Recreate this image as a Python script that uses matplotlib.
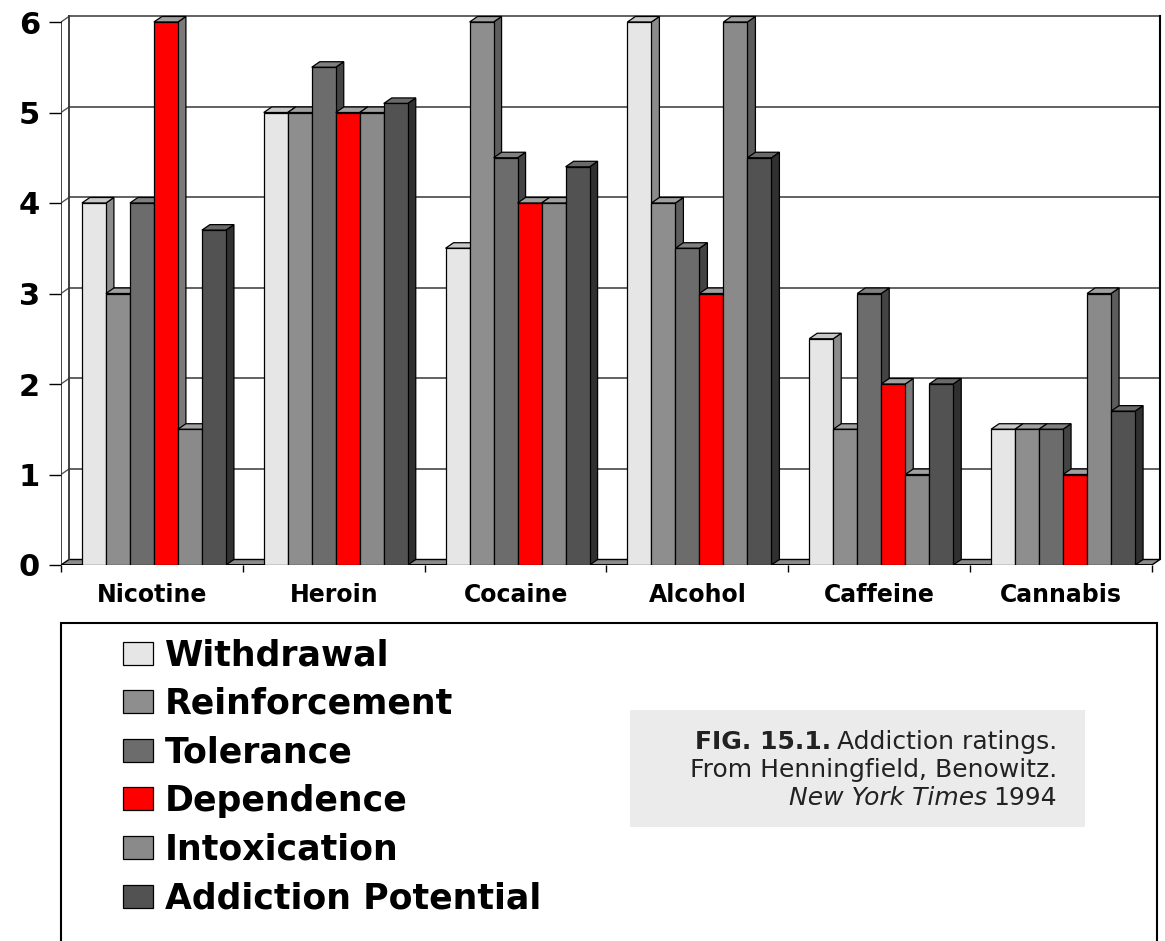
import matplotlib.pyplot as plt
from matplotlib.patches import Polygon, Rectangle
import numpy as np

drugs = ['Nicotine', 'Heroin', 'Cocaine', 'Alcohol', 'Caffeine', 'Cannabis']
series = ['Withdrawal', 'Reinforcement', 'Tolerance', 'Dependence',
          'Intoxication', 'Addiction Potential']

withdrawal = [4, 5, 3.5, 6, 2.5, 1.5]
reinforcement = [3, 5, 6, 4, 1.5, 1.5]
tolerance = [4, 5.5, 4.5, 3.5, 3, 1.5]
dependence = [6, 5, 4, 3, 2, 1]
intoxication = [1.5, 5, 4, 6, 1, 3]
addiction = [3.7, 5.1, 4.4, 4.5, 2, 1.7]
values = [withdrawal, reinforcement, tolerance, dependence, intoxication, addiction]

front = ['#e6e6e6', '#8e8e8e', '#6c6c6c', '#ff0000', '#8a8a8a', '#525252']
side = ['#8c8c8c', '#5e5e5e', '#444444', '#7a7a7a', '#5c5c5c', '#303030']
top = ['#c8c8c8', '#a0a0a0', '#808080', '#a0a0a0', '#a0a0a0', '#6a6a6a']

W, H = 1165, 941
fig = plt.figure(figsize=(W / 100, H / 100), dpi=100)
ax = fig.add_axes([61 / W, (H - 565) / H, (W - 61) / W, 565 / H])
ax.set_xlim(0, (W - 61) / 181.83)
ax.set_ylim(0, 565 / 90.5)
for s in ax.spines.values():
    s.set_visible(False)

dx, dy = 0.044, 0.061
n = len(drugs)
offset, bw = 0.115, 0.132

# floor and walls
ax.add_patch(Polygon([(0, 0), (n, 0), (n + dx, dy), (dx, dy)], closed=True,
                     facecolor='#8a8a8a', edgecolor='black', lw=1, zorder=1))
for k in range(1, 7):
    ax.plot([dx, n + dx], [k + dy, k + dy], color='#555555', lw=1.3, zorder=1)
    ax.plot([0, dx], [k, k + dy], color='#555555', lw=1.0, zorder=1)
ax.plot([0, 0], [0, 6], color='#333333', lw=1.3, zorder=1)
ax.plot([dx, dx], [dy, 6 + dy], color='#333333', lw=1.3, zorder=1)
ax.plot([n + dx, n + dx], [dy, 6 + dy], color='black', lw=1.5, zorder=1)
ax.plot([0, n], [0, 0], color='black', lw=1.3, zorder=1)

x = np.arange(n)
handles = []
z = 3
for j, vals in enumerate(values):
    x0 = x + offset + j * bw
    bars = ax.bar(x0, vals, width=bw, align='edge', color=front[j],
                  edgecolor='black', linewidth=0.9, zorder=z + 2 * j + 1)
    handles.append(bars)
    for xi, h in zip(x0, vals):
        ax.add_patch(Polygon([(xi + bw, 0), (xi + bw + dx, dy),
                              (xi + bw + dx, h + dy), (xi + bw, h)],
                             closed=True, facecolor=side[j], edgecolor='black',
                             lw=0.9, zorder=z + 2 * j))
        ax.add_patch(Polygon([(xi, h), (xi + dx, h + dy),
                              (xi + bw + dx, h + dy), (xi + bw, h)],
                             closed=True, facecolor=top[j], edgecolor='black',
                             lw=0.9, zorder=z + 2 * j))

ax.set_yticks(range(7))
ax.set_yticklabels([str(k) for k in range(7)], fontsize=22, fontweight='bold')
ax.tick_params(axis='y', length=9, width=1, pad=6)
ax.set_xticks(range(n + 1))
ax.set_xticklabels([])
ax.tick_params(axis='x', which='major', length=5, width=1)
ax.set_xticks(x + 0.5, minor=True)
ax.set_xticklabels(drugs, minor=True, fontsize=17, fontweight='bold')
ax.tick_params(axis='x', which='minor', length=0, pad=13)

# legend box
fig.patches.append(Rectangle((61 / W, -0.01), (1157 - 61) / W, 0.01 + (H - 623) / H,
                             transform=fig.transFigure, facecolor='none',
                             edgecolor='black', lw=1.5))
fig.legend(handles, series, loc='upper left', bbox_to_anchor=(106 / W, 1 - 621 / H),
           frameon=False, borderpad=0, handlelength=0.86, handleheight=0.64,
           handletextpad=0.34, labelspacing=0.42,
           prop={'weight': 'bold', 'size': 25})

# caption box
fig.patches.append(Rectangle((630 / W, 1 - 827 / H), 455 / W, 117 / H,
                             transform=fig.transFigure, facecolor='#ebebeb',
                             edgecolor='none'))
xr = 1057 / W
t1 = fig.text(xr, 1 - 742 / H, 'Addiction ratings.', ha='right', va='baseline',
              fontsize=18, color='#222222')
fig.text(xr, 1 - 770 / H, 'From Henningfield, Benowitz.', ha='right', va='center',
         fontsize=18, color='#222222')
t3 = fig.text(xr, 1 - 797 / H, '1994', ha='right', va='baseline',
              fontsize=18, color='#222222')

fig.canvas.draw()
r = fig.canvas.get_renderer()
b1 = t1.get_window_extent(r)
b3 = t3.get_window_extent(r)
t1.set_y(1 - 749 / H)
t3.set_y(1 - 805 / H)
fig.text((b1.x0 - 6) / W, 1 - 749 / H, 'FIG. 15.1.', ha='right', va='baseline',
         fontsize=18, fontweight='bold', color='#222222')
fig.text((b3.x0 - 6) / W, 1 - 805 / H, 'New York Times', ha='right', va='baseline',
         fontsize=18, fontstyle='italic', color='#222222')

fig.savefig('out.png', dpi=100)
